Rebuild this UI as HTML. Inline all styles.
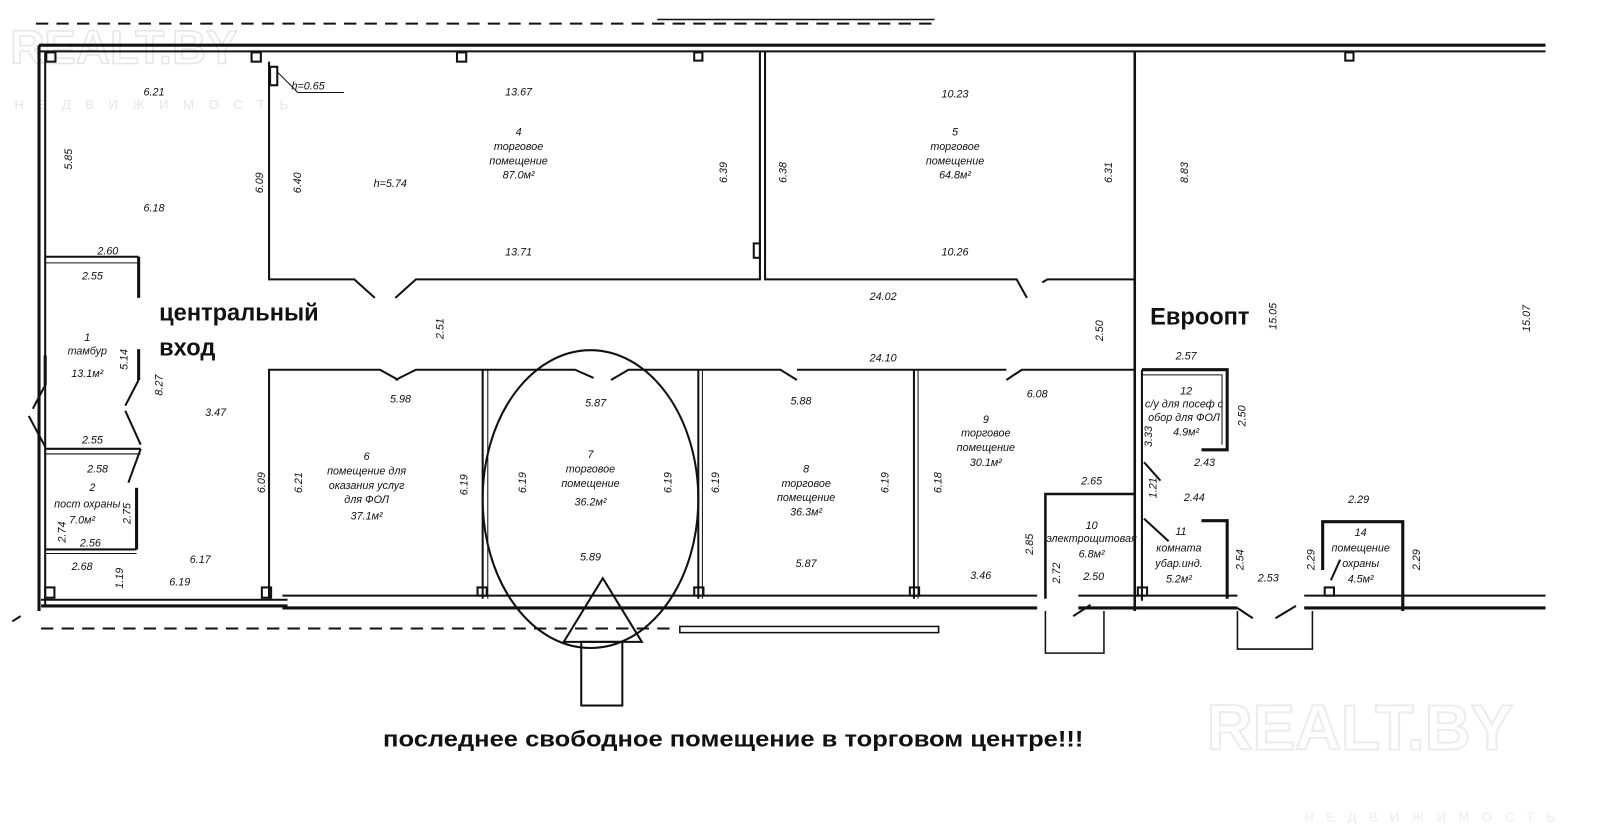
<!DOCTYPE html>
<html><head><meta charset="utf-8"><style>
html,body{margin:0;padding:0;background:#fff;}
svg{display:block}
.d{font-family:"Liberation Sans",sans-serif;font-style:italic;font-size:10.5px;fill:#111;}
.b{font-family:"Liberation Sans",sans-serif;font-weight:bold;fill:#111;}
</style></head><body>
<svg width="1602" height="837" viewBox="0 0 1560 815" xmlns="http://www.w3.org/2000/svg">
<rect width="1560" height="815" fill="#fff"/>
<!-- watermarks -->
<text x="10" y="62" font-family="Liberation Sans" font-weight="bold" font-size="46" fill="none" stroke="#e6e6e6" stroke-width="1.5">REALT.BY</text>
<text x="14" y="106" font-family="Liberation Sans" font-size="13" letter-spacing="14" fill="#e6e6e6">НЕДВИЖИМОСТЬ</text>
<text x="1175" y="730" font-family="Liberation Sans" font-weight="bold" font-size="62" fill="none" stroke="#ececec" stroke-width="2">REALT.BY</text>
<text x="1270" y="800" font-family="Liberation Sans" font-size="13" letter-spacing="12" fill="#ececec">НЕДВИЖИМОСТЬ</text>

<g stroke="#111" fill="none" stroke-width="2">
<line x1="35" y1="23" x2="910" y2="23" stroke-dasharray="12,8"/>
<line x1="640" y1="19" x2="910" y2="19" stroke-width="1.5"/>
<line x1="38" y1="44" x2="1505" y2="44" stroke-width="3"/>
<line x1="38" y1="50" x2="1505" y2="50" stroke-width="2"/>
<line x1="38" y1="44" x2="38" y2="595" stroke-width="3"/>
<line x1="44" y1="50" x2="44" y2="590"/>
<polyline points="262,60 262,272 345,272 365,290"/>
<polyline points="385,290 405,272 740,272 740,50"/>
<polyline points="745,50 745,272 990,272 1000,290"/>
<polyline points="1015,275 1020,272 1105,272"/>
<line x1="1105" y1="50" x2="1105" y2="595" stroke-width="2.5"/>
<polyline points="262,583 262,360 370,360 388,370"/>
<polyline points="385,370 405,360 560,360 578,368"/>
<polyline points="595,370 612,360 760,360 776,370"/>
<polyline points="980,370 995,360 1105,360"/>
<line x1="776" y1="360" x2="980" y2="360"/>
<line x1="470" y1="360" x2="470" y2="583"/><line x1="475" y1="360" x2="475" y2="583" stroke-width="1"/>
<line x1="680" y1="360" x2="680" y2="583"/><line x1="684" y1="360" x2="684" y2="583" stroke-width="1"/>
<line x1="890" y1="360" x2="890" y2="583"/><line x1="894" y1="360" x2="894" y2="583" stroke-width="1"/>
<line x1="40" y1="590" x2="280" y2="590" stroke-width="3"/>
<line x1="40" y1="584" x2="280" y2="584"/>
<line x1="275" y1="580" x2="1010" y2="580" stroke-width="2"/>
<line x1="275" y1="592" x2="1010" y2="592" stroke-width="3"/>
<line x1="1050" y1="580" x2="1205" y2="580" stroke-width="2"/>
<line x1="1050" y1="592" x2="1205" y2="592" stroke-width="3"/>
<line x1="1270" y1="580" x2="1505" y2="580" stroke-width="2"/>
<line x1="1270" y1="592" x2="1505" y2="592" stroke-width="3"/>
<line x1="40" y1="612" x2="655" y2="612" stroke-dasharray="12,8"/>
<rect x="662" y="610" width="252" height="6" stroke-width="1.5"/>
<line x1="12" y1="605" x2="20" y2="600"/>
<line x1="44" y1="250" x2="135" y2="250"/><line x1="44" y1="256" x2="135" y2="256" stroke-width="1"/>
<line x1="135" y1="250" x2="135" y2="290" stroke-width="3"/>
<line x1="135" y1="340" x2="135" y2="370" stroke-width="3"/>
<line x1="44" y1="346" x2="44" y2="375" stroke-width="3"/>
<line x1="135" y1="370" x2="122" y2="395"/>
<line x1="44" y1="375" x2="32" y2="398"/>
<line x1="28" y1="405" x2="44" y2="435"/>
<line x1="122" y1="400" x2="137" y2="433"/>
<line x1="44" y1="437" x2="137" y2="437"/><line x1="44" y1="442" x2="137" y2="442" stroke-width="1"/>
<line x1="137" y1="437" x2="125" y2="470"/>
<line x1="133" y1="475" x2="133" y2="535" stroke-width="3"/>
<line x1="44" y1="535" x2="133" y2="535"/><line x1="44" y1="539" x2="133" y2="539" stroke-width="1"/>
<polyline points="1112,360 1195,360 1195,438 1170,438" stroke-width="3"/>
<polyline points="1112,365 1190,365 1190,433" stroke-width="1"/>
<line x1="1112" y1="360" x2="1112" y2="585"/>
<line x1="1114" y1="450" x2="1130" y2="468"/>
<polyline points="1170,507 1195,507 1195,583" stroke-width="3"/>
<line x1="1114" y1="505" x2="1138" y2="527"/>
<polyline points="1018,583 1018,481 1105,481" stroke-width="2.5"/>
<polyline points="1018,595 1018,636 1075,636 1075,595" stroke-width="1.5"/>
<line x1="1045" y1="600" x2="1062" y2="589"/>
<polyline points="1205,595 1205,632 1278,632 1278,595" stroke-width="1.5"/>
<line x1="1205" y1="592" x2="1220" y2="602"/>
<line x1="1242" y1="602" x2="1262" y2="590"/>
<polyline points="1288,555 1288,508 1366,508 1366,595" stroke-width="3"/>
<line x1="1305" y1="545" x2="1296" y2="565"/>
<rect x="45" y="51" width="9" height="9"/><rect x="245" y="51" width="9" height="9"/><rect x="263" y="65" width="7" height="18"/>
<rect x="445" y="51" width="9" height="9"/><rect x="676" y="51" width="8" height="8"/>
<rect x="1310" y="51" width="8" height="8"/>
<rect x="44" y="572" width="9" height="10"/><rect x="255" y="572" width="9" height="10"/>
<rect x="465" y="572" width="9" height="8"/><rect x="676" y="572" width="9" height="8"/><rect x="886" y="572" width="9" height="8"/>
<rect x="1108" y="572" width="9" height="8"/><rect x="1290" y="572" width="9" height="8"/>
<rect x="734" y="237" width="6" height="14"/>
<ellipse cx="575" cy="486" rx="105" ry="145"/>
<polygon points="587,563 549,625 625,625"/>
<rect x="566" y="625" width="40" height="62"/>
</g>
<line x1="270" y1="70" x2="290" y2="90" stroke="#111"/><line x1="290" y1="90" x2="335" y2="90" stroke="#111"/>

<g class="d" text-anchor="middle">
<text x="150" y="93">6.21</text><text x="300" y="87">h=0.65</text>
<text x="505" y="93">13.67</text><text x="930" y="95">10.23</text>
<text x="505" y="132">4</text><text x="505" y="146">торговое</text><text x="505" y="160">помещение</text><text x="505" y="174">87.0м²</text>
<text x="380" y="182">h=5.74</text>
<text x="930" y="132">5</text><text x="930" y="146">торговое</text><text x="930" y="160">помещение</text><text x="930" y="174">64.8м²</text>
<text x="150" y="206">6.18</text>
<text x="505" y="249">13.71</text><text x="930" y="249">10.26</text>
<text x="105" y="248">2.60</text><text x="90" y="272">2.55</text>
<text x="860" y="292">24.02</text><text x="860" y="352">24.10</text>
<text x="85" y="332">1</text><text x="85" y="345">тамбур</text><text x="85" y="367">13.1м²</text>
<text x="210" y="405">3.47</text>
<text x="390" y="392">5.98</text><text x="580" y="396">5.87</text><text x="780" y="394">5.88</text><text x="1010" y="387">6.08</text>
<text x="1155" y="350">2.57</text>
<text x="960" y="412">9</text><text x="960" y="425">торговое</text><text x="960" y="439">помещение</text><text x="960" y="454">30.1м²</text>
<text x="1155" y="384">12</text><text x="1153" y="397">с/у для посеф с</text><text x="1153" y="410">обор для ФОЛ</text><text x="1155" y="424">4.9м²</text>
<text x="90" y="432">2.55</text><text x="95" y="460">2.58</text>
<text x="90" y="478">2</text><text x="85" y="494">пост охраны</text><text x="80" y="510">7.0м²</text><text x="88" y="532">2.56</text>
<text x="80" y="555">2.68</text><text x="195" y="548">6.17</text><text x="175" y="570">6.19</text>
<text x="357" y="448">6</text><text x="357" y="462">помещение для</text><text x="357" y="476">оказания услуг</text><text x="357" y="490">для ФОЛ</text><text x="357" y="506">37.1м²</text>
<text x="575" y="446">7</text><text x="575" y="460">торговое</text><text x="575" y="474">помещение</text><text x="575" y="492">36.2м²</text>
<text x="785" y="460">8</text><text x="785" y="474">торговое</text><text x="785" y="488">помещение</text><text x="785" y="502">36.3м²</text>
<text x="1063" y="472">2.65</text><text x="1163" y="488">2.44</text><text x="1173" y="454">2.43</text><text x="1323" y="490">2.29</text>
<text x="1063" y="515">10</text><text x="1063" y="528">электрощитовая</text><text x="1063" y="543">6.8м²</text>
<text x="1065" y="565">2.50</text>
<text x="1150" y="521">11</text><text x="1148" y="537">комната</text><text x="1148" y="552">убар.инд.</text><text x="1148" y="567">5.2м²</text>
<text x="1325" y="522">14</text><text x="1325" y="537">помещение</text><text x="1325" y="552">охраны</text><text x="1325" y="567">4.5м²</text>
<text x="1235" y="566">2.53</text>
<text x="575" y="546">5.89</text><text x="785" y="552">5.87</text><text x="955" y="564">3.46</text>
</g>
<g class="d" text-anchor="middle">
<text transform="translate(70,155) rotate(-90)">5.85</text>
<text transform="translate(256,178) rotate(-90)">6.09</text>
<text transform="translate(293,178) rotate(-90)">6.40</text>
<text transform="translate(708,168) rotate(-90)">6.39</text>
<text transform="translate(766,168) rotate(-90)">6.38</text>
<text transform="translate(1083,168) rotate(-90)">6.31</text>
<text transform="translate(1157,168) rotate(-90)">8.83</text>
<text transform="translate(432,320) rotate(-90)">2.51</text>
<text transform="translate(1074,322) rotate(-90)">2.50</text>
<text transform="translate(1243,308) rotate(-90)">15.05</text>
<text transform="translate(1490,310) rotate(-90)">15.07</text>
<text transform="translate(124,350) rotate(-90)">5.14</text>
<text transform="translate(158,375) rotate(-90)">8.27</text>
<text transform="translate(258,470) rotate(-90)">6.09</text>
<text transform="translate(294,470) rotate(-90)">6.21</text>
<text transform="translate(455,472) rotate(-90)">6.19</text>
<text transform="translate(512,470) rotate(-90)">6.19</text>
<text transform="translate(654,470) rotate(-90)">6.19</text>
<text transform="translate(700,470) rotate(-90)">6.19</text>
<text transform="translate(865,470) rotate(-90)">6.19</text>
<text transform="translate(917,470) rotate(-90)">6.18</text>
<text transform="translate(1122,425) rotate(-90)">3.33</text>
<text transform="translate(1126,475) rotate(-90)">1.21</text>
<text transform="translate(1213,405) rotate(-90)">2.50</text>
<text transform="translate(64,518) rotate(-90)">2.74</text>
<text transform="translate(127,500) rotate(-90)">2.75</text>
<text transform="translate(120,563) rotate(-90)">1.19</text>
<text transform="translate(1006,530) rotate(-90)">2.85</text>
<text transform="translate(1032,558) rotate(-90)">2.72</text>
<text transform="translate(1211,545) rotate(-90)">2.54</text>
<text transform="translate(1280,545) rotate(-90)">2.29</text>
<text transform="translate(1383,545) rotate(-90)">2.29</text>
</g>
<text class="b" x="155" y="312" font-size="23">центральный</text>
<text class="b" x="155" y="346" font-size="23">вход</text>
<text class="b" x="1120" y="316" font-size="23">Евроопт</text>
<text x="373" y="727" font-family="Liberation Sans" font-weight="bold" font-size="22" fill="#111" textLength="682" lengthAdjust="spacingAndGlyphs">последнее свободное помещение в торговом центре!!!</text>
</svg>
</body></html>
